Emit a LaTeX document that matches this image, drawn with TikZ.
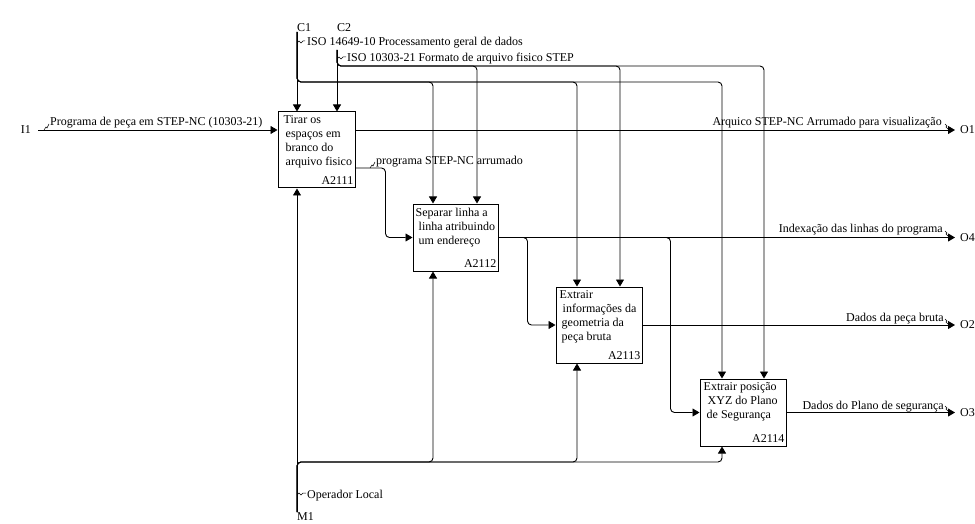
\documentclass[tikz,border=0pt]{standalone}
\usepackage{fontspec}
\setmainfont{Liberation Serif}
\usetikzlibrary{arrows.meta}
\begin{document}
\begin{tikzpicture}[x=1pt,y=-1pt,
    every node/.style={font=\fontsize{12}{14}\selectfont, inner sep=0pt},
    act/.style={draw, line width=1pt},
    txt/.style={anchor=north west, align=left},
    num/.style={anchor=south east},
    flow/.style={line width=0.9pt, rounded corners=4pt, -{Triangle[length=7pt,width=8pt]}},
    tick/.style={line width=0.5pt}]
    \useasboundingbox (0,0) rectangle (975,524);

    % activity boxes
    \node[act, minimum width=77, minimum height=76] (a1) at (316.5,150) {};
    \node[act, minimum width=85, minimum height=67] (a2) at (455.5,237.5) {};
    \node[act, minimum width=86, minimum height=76] (a3) at (599,325) {};
    \node[act, minimum width=86, minimum height=67] (a4) at (743,412.5) {};

    \node[txt] at ([xshift=6pt,yshift=-4pt]a1.north west) {Tirar os\\\hspace*{2pt}espaços em\\\hspace*{2pt}branco do\\\hspace*{2pt}arquivo fisico};
    \node[txt] at ([xshift=3pt,yshift=-4pt]a2.north west) {Separar linha a\\\hspace*{3pt}linha atribuindo\\\hspace*{3pt}um endereço};
    \node[txt] at ([xshift=4pt,yshift=-4pt]a3.north west) {Extrair\\\hspace*{3pt}informações da\\\hspace*{2pt}geometria da\\\hspace*{2pt}peça bruta};
    \node[txt] at ([xshift=4pt,yshift=-4pt]a4.north west) {Extrair posição\\\hspace*{4pt}XYZ do Plano\\\hspace*{3pt}de Segurança};

    \node[num] at ([xshift=-2pt,yshift=4pt]a1.south east) {A2111};
    \node[num] at ([xshift=-2pt,yshift=4pt]a2.south east) {A2112};
    \node[num] at ([xshift=-2pt,yshift=4pt]a3.south east) {A2113};
    \node[num] at ([xshift=-2pt,yshift=4pt]a4.south east) {A2114};

    % boundary arrows
    \node[anchor=east] (i1) at (31,130) {I1};
    \node[anchor=south west] (c1) at (297,32) {C1};
    \node[anchor=south west] (c2) at (337,32) {C2};
    \node[anchor=north west] (m1) at (297,512) {M1};
    \node[anchor=west] (o1) at (960,130) {O1};
    \node[anchor=west] (o4) at (960,237.5) {O4};
    \node[anchor=west] (o2) at (960,325) {O2};
    \node[anchor=west] (o3) at (960,412.5) {O3};

    % input
    \draw[flow] ([xshift=7pt]i1.east) -- ([yshift=20pt]a1.west);
    \node[anchor=base west] (li1) at (50,126) {Programa de peça em STEP-NC (10303-21)};
    \draw[tick] (44,130) -- ++(2,-3) -- ++(1,1) -- ++(2,-4);

    % controls
    \draw[flow] (c1.south west) -- ([xshift=-19.5pt]a1.north);
    \draw[flow] (c1.south west) -- ++(0,50) -| ([xshift=-22.5pt]a2.north);
    \draw[flow] (c1.south west) -- ++(0,50) -| ([xshift=-22pt]a3.north);
    \draw[flow] (c1.south west) -- ++(0,50) -| ([xshift=-21pt]a4.north);
    \node[anchor=base west] (lc1) at (307,46) {ISO 14649-10 Processamento geral de dados};
    \draw[tick] (297,43) -- ++(2,-2) -- ++(2,2) -- ++(2,-2) -- ++(2,0);

    \draw[flow] ([yshift=-18pt]c2.south west) -- ([xshift=20.5pt]a1.north);
    \draw[flow] ([yshift=-18pt]c2.south west) -- ++(0,16) -| ([xshift=21.5pt]a2.north);
    \draw[flow] ([yshift=-18pt]c2.south west) -- ++(0,16) -| ([xshift=21pt]a3.north);
    \draw[flow] ([yshift=-18pt]c2.south west) -- ++(0,16) -| ([xshift=21pt]a4.north);
    \node[anchor=base west] (lc2) at (347,62) {ISO 10303-21 Formato de arquivo fisico STEP};
    \draw[tick] (337,59) -- ++(2,-2) -- ++(2,2) -- ++(2,-2) -- ++(3,0);

    % mechanism
    \draw[flow] (m1.north west) -- ([xshift=-19.5pt]a1.south);
    \draw[flow] (m1.north west) -- ++(0,-50) -| ([xshift=-22.5pt]a2.south);
    \draw[flow] (m1.north west) -- ++(0,-50) -| ([xshift=-22pt]a3.south);
    \draw[flow] (m1.north west) -- ++(0,-50) -| ([xshift=-21pt]a4.south);
    \node[anchor=base west] (lm1) at (307,498) {Operador Local};
    \draw[tick] (297,495) -- ++(2,-2) -- ++(2,2) -- ++(2,-2) -- ++(3,0);

    % outputs
    \draw[flow] ([yshift=20pt]a1.east) -- ([xshift=-5pt]o1.west);
    \draw[flow] ([yshift=-18pt]a1.east) -- ++(30,0) |- (a2.west);
    \node[anchor=base west] (la1) at (376,165) {programa STEP-NC arrumado};
    \draw[tick] (370,168) -- ++(2,-3) -- ++(1,1) -- ++(2,-4);

    \draw[flow] (a2.east) -- ([xshift=-5pt]o4.west);
    \draw[flow] (a2.east) -- ++(29,0) |- (a3.west);
    \draw[flow] (a2.east) -- ++(172,0) |- (a4.west);
    \draw[flow] (a3.east) -- ([xshift=-5pt]o2.west);
    \draw[flow] (a4.east) -- ([xshift=-5pt]o3.west);

    \node[anchor=base east] (lo1) at (942,126) {Arquico STEP-NC Arrumado para visualização};
    \node[anchor=base east] (lo4) at (943,233) {Indexação das linhas do programa};
    \node[anchor=base east] (lo2) at (944,321) {Dados da peça bruta};
    \node[anchor=base east] (lo3) at (944,409) {Dados do Plano de segurança};
    \draw[tick] (945,124) -- ++(2,2) -- ++(-1,1) -- ++(3,3);
    \draw[tick] (945,231) -- ++(2,2) -- ++(-1,1) -- ++(3,3);
    \draw[tick] (945,319) -- ++(2,2) -- ++(-1,1) -- ++(3,3);
    \draw[tick] (945,406) -- ++(2,2) -- ++(-1,1) -- ++(3,3);
\end{tikzpicture}
\end{document}
